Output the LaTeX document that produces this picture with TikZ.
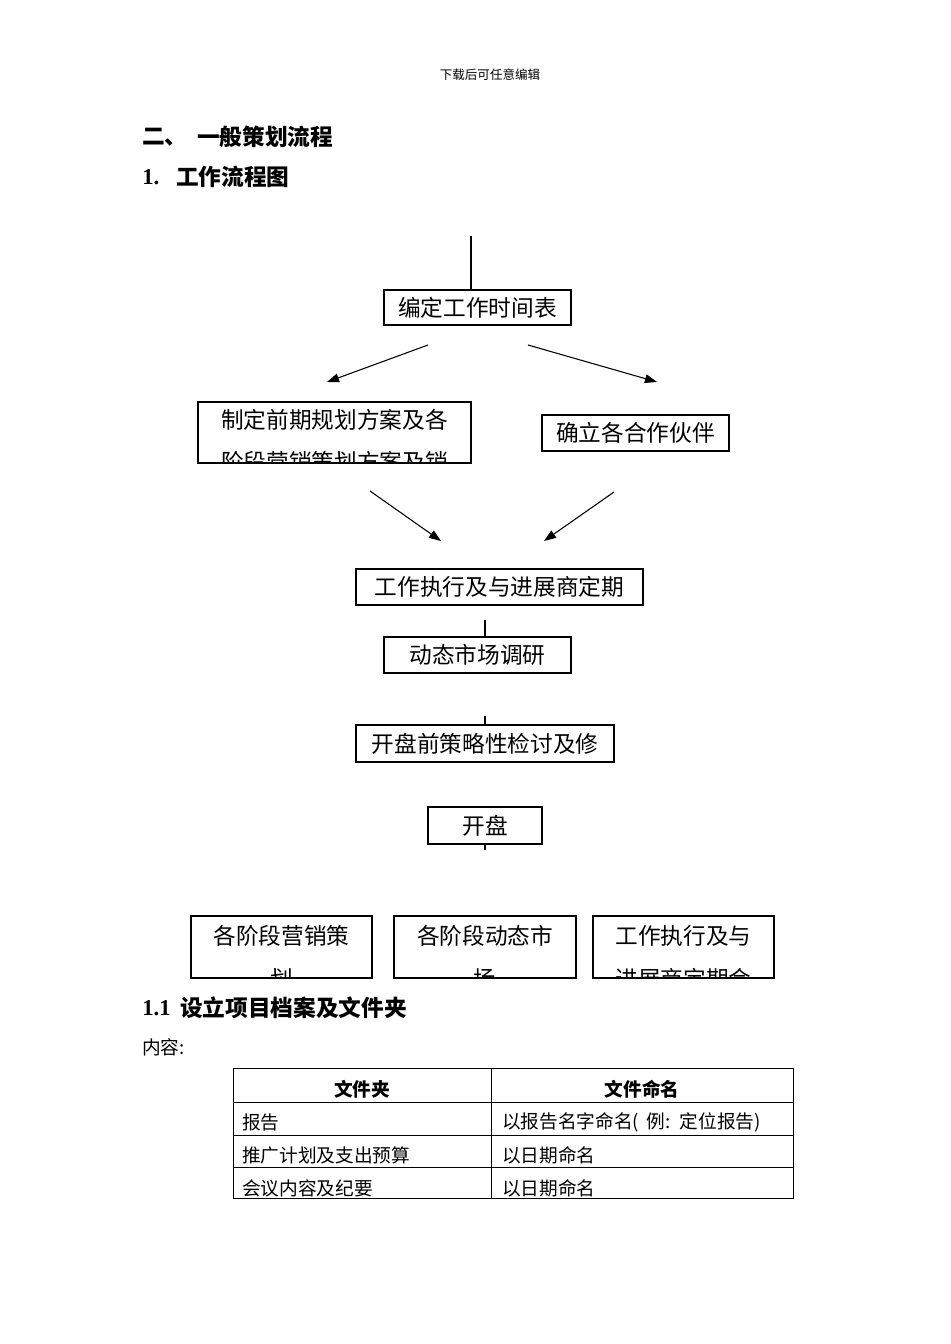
\documentclass[tikz,border=0pt]{standalone}
\usepackage{fontspec}
\setmainfont{Noto Sans CJK SC}
\newfontfamily\numfont{Liberation Serif}
\usetikzlibrary{arrows.meta}

\begin{document}
\begin{tikzpicture}[
            x=0.75pt, y=-0.75pt,
            box/.style={
                rectangle,
                draw=black,
                line width=0.9pt,
                inner sep=0pt,
                font=\fontsize{17}{20}\selectfont
            },
            cutbox/.style n args={4}{
                box,
                path picture={
                    \node[inner sep=0pt] at ([yshift=-#1]path picture bounding box.north) {#2};
                    \node[inner sep=0pt] at ([yshift=-#3]path picture bounding box.north) {#4};
                }
            },
            heading/.style={
                anchor=west,
                inner sep=0pt,
                font=\bfseries\fontsize{17}{20}\selectfont
            },
            cell/.style={
                anchor=west,
                inner sep=0pt,
                font=\fontsize{14}{16}\selectfont
            },
            headcell/.style={
                inner sep=0pt,
                font=\bfseries\fontsize{14}{16}\selectfont
            },
            arrow/.style={-{Triangle[length=9pt,width=6.5pt]}, line width=0.8pt},
            link/.style={line width=0.8pt}
        ]
        \useasboundingbox (0,0) rectangle (950,1344);

        % Page header and titles
        \node[inner sep=0pt, font=\fontsize{9.4}{11}\selectfont] (header) at (490,75) {下载后可任意编辑};
        \node[heading] (sec2) at (142,137) {二、};
        \node[heading] (sec2t) at (197,137) {一般策划流程};
        \node[heading, font=\numfont\bfseries\fontsize{17}{20}\selectfont] (sec1n) at (142,177) {1.};
        \node[heading] (sec1t) at (176,177) {工作流程图};

        % Flow boxes
        \node[box, minimum width=140.25pt, minimum height=26.25pt] (timetable) at (477.5,307.5) {编定工作时间表};
        \node[cutbox={13.5pt}{制定前期规划方案及各}{45pt}{阶段营销策划方案及销},
              minimum width=204.75pt, minimum height=45.75pt] (scheme) at (334.5,432.5) {};
        \node[box, minimum width=140.25pt, minimum height=27pt] (partner) at (635.5,433) {确立各合作伙伴};
        \node[box, minimum width=215.25pt, minimum height=27pt] (execute) at (499.5,587) {工作执行及与进展商定期};
        \node[box, minimum width=140.25pt, minimum height=27pt] (survey) at (477.5,655) {动态市场调研};
        \node[box, minimum width=193.5pt, minimum height=27.75pt] (review) at (485,743.5) {开盘前策略性检讨及修};
        \node[box, minimum width=85.5pt, minimum height=27.75pt] (opening) at (485,825.5) {开盘};

        % Bottom boxes
        \node[cutbox={15pt}{各阶段营销策}{47.5pt}{划}, minimum width=135.75pt, minimum height=46.5pt] (stagemkt) at (281.5,947) {};
        \node[cutbox={15pt}{各阶段动态市}{47.5pt}{场}, minimum width=136.5pt, minimum height=46.5pt] (stagesurvey) at (485,947) {};
        \node[cutbox={15pt}{工作执行及与}{47.5pt}{进展商定期会}, minimum width=135.75pt, minimum height=46.5pt] (stageexec) at (683.5,947) {};

        % Free arrow ends
        \coordinate (top) at (471,236);
        \coordinate (a1s) at (428,345);
        \coordinate (a1e) at (327,382);
        \coordinate (a2s) at (528,345);
        \coordinate (a2e) at (657,382);
        \coordinate (a3s) at (370,491);
        \coordinate (a3e) at (441,541);
        \coordinate (a4s) at (614,492);
        \coordinate (a4e) at (544,541);
        \coordinate (l1) at (485,620);
        \coordinate (l2) at (485,716);
        \coordinate (tick) at (485,850);

        % Connectors
        \draw[link] (top) -- (top |- timetable.north);
        \draw[arrow] (a1s) -- (a1e);
        \draw[arrow] (a2s) -- (a2e);
        \draw[arrow] (a3s) -- (a3e);
        \draw[arrow] (a4s) -- (a4e);
        \draw[link] (l1) -- (l1 |- survey.north);
        \draw[link] (l2) -- (l2 |- review.north);
        \draw[link] (opening.south) -- (tick);

        % Section 1.1
        \node[heading, font=\numfont\bfseries\fontsize{17}{20}\selectfont] (sec11n) at (142,1008) {1.1};
        \node[heading] (sec11t) at (180,1008) {设立项目档案及文件夹};
        \node[cell] (content) at (142,1047) {内容:};

        % Table
        \draw[line width=0.75pt] (233,1068) rectangle (793,1198);
        \draw[line width=0.75pt] (491,1068) -- (491,1198);
        \foreach \y in {1102,1135,1167}
            \draw[line width=0.75pt] (233,\y) -- (793,\y);
        \node[headcell] (th1) at (362,1089) {文件夹};
        \node[headcell] (th2) at (642,1089) {文件命名};
        \node[cell] (r1a) at (242,1122) {报告};
        \node[cell] (r1b) at (502,1122) {以报告名字命名(\hspace{0.4em}例:\hspace{0.5em}定位报告)};
        \node[cell] (r2a) at (242,1155) {推广计划及支出预算};
        \node[cell] (r2b) at (502,1155) {以日期命名};
        \node[cell] (r3a) at (242,1188) {会议内容及纪要};
        \node[cell] (r3b) at (502,1188) {以日期命名};

        \end{tikzpicture}
\end{document}
